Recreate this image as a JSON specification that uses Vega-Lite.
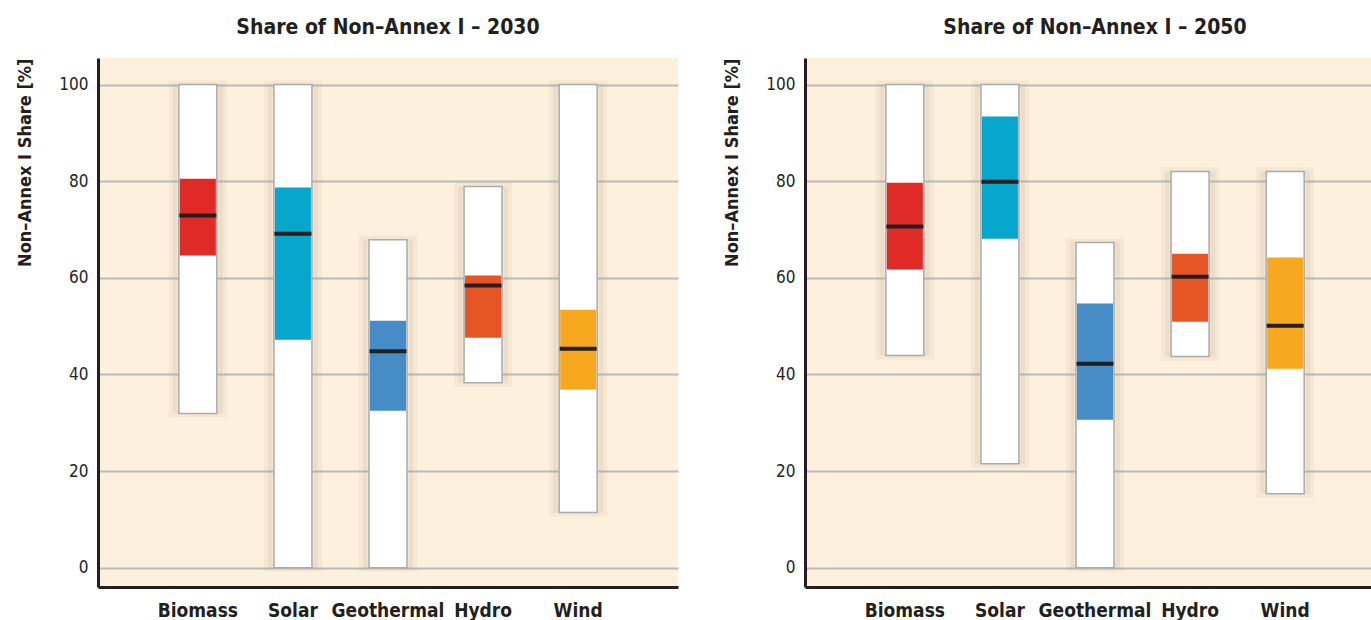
{
  "$schema": "https://vega.github.io/schema/vega-lite/v6.json",
  "background": "white",
  "padding": {"left": 16, "top": 17, "right": 0, "bottom": 0},
  "spacing": 45,
  "datasets": {
    "shares": [
      {"year": "2030", "tech": "Biomass", "min": 31.9, "max": 100, "q1": 64.6, "q3": 80.5, "median": 72.9},
      {"year": "2030", "tech": "Solar", "min": 0, "max": 100, "q1": 47.2, "q3": 78.7, "median": 69.1},
      {"year": "2030", "tech": "Geothermal", "min": 0, "max": 67.9, "q1": 32.5, "q3": 51.1, "median": 44.8},
      {"year": "2030", "tech": "Hydro", "min": 38.3, "max": 78.9, "q1": 47.6, "q3": 60.5, "median": 58.4},
      {"year": "2030", "tech": "Wind", "min": 11.4, "max": 100, "q1": 36.9, "q3": 53.4, "median": 45.3},
      {"year": "2050", "tech": "Biomass", "min": 43.9, "max": 100, "q1": 61.7, "q3": 79.7, "median": 70.6},
      {"year": "2050", "tech": "Solar", "min": 21.5, "max": 100, "q1": 68.1, "q3": 93.4, "median": 79.9},
      {"year": "2050", "tech": "Geothermal", "min": 0, "max": 67.3, "q1": 30.6, "q3": 54.7, "median": 42.2},
      {"year": "2050", "tech": "Hydro", "min": 43.7, "max": 82, "q1": 50.9, "q3": 65, "median": 60.2},
      {"year": "2050", "tech": "Wind", "min": 15.3, "max": 82, "q1": 41.2, "q3": 64.2, "median": 50.1}
    ]
  },
  "hconcat": [
    {
      "title": {"text": "Share of Non–Annex I – 2030"},
      "width": 580,
      "height": 529,
      "data": {"name": "shares"},
      "transform": [{"filter": "datum.year === '2030'"}],
      "encoding": {
        "x": {"field": "tech", "type": "nominal", "sort": ["Biomass", "Solar", "Geothermal", "Hydro", "Wind"], "scale": {"paddingOuter": 0.55, "paddingInner": 0}, "axis": {"title": null}}
      },
      "layer": [
        {"mark": {"type": "bar", "size": 50, "fill": "#b09a80", "fillOpacity": 0.12, "stroke": "#b09a80", "strokeWidth": 8, "strokeOpacity": 0.1},
         "encoding": {"y": {"field": "min", "type": "quantitative", "scale": {"domain": [-4, 105.5], "nice": false, "zero": false}, "axis": {"title": "Non–Annex I Share [%]", "values": [0, 20, 40, 60, 80, 100]}}, "y2": {"field": "max"}}},
        {"mark": {"type": "bar", "size": 38, "fill": "white", "stroke": "#a9abae", "strokeWidth": 1.5},
         "encoding": {"y": {"field": "min", "type": "quantitative"}, "y2": {"field": "max"}}},
        {"mark": {"type": "bar", "size": 36},
         "encoding": {"y": {"field": "q1", "type": "quantitative"}, "y2": {"field": "q3"}, "color": {"field": "tech", "type": "nominal", "scale": {"domain": ["Biomass", "Solar", "Geothermal", "Hydro", "Wind"], "range": ["#e02a26", "#06a6cd", "#468dc8", "#e55525", "#f8a81f"]}, "legend": null}}},
        {"mark": {"type": "tick", "size": 37, "thickness": 4, "color": "#231f20", "opacity": 1},
         "encoding": {"y": {"field": "median", "type": "quantitative"}}}
      ]
    },
    {
      "title": {"text": "Share of Non–Annex I – 2050"},
      "width": 580,
      "height": 529,
      "data": {"name": "shares"},
      "transform": [{"filter": "datum.year === '2050'"}],
      "encoding": {
        "x": {"field": "tech", "type": "nominal", "sort": ["Biomass", "Solar", "Geothermal", "Hydro", "Wind"], "scale": {"paddingOuter": 0.55, "paddingInner": 0}, "axis": {"title": null}}
      },
      "layer": [
        {"mark": {"type": "bar", "size": 50, "fill": "#b09a80", "fillOpacity": 0.12, "stroke": "#b09a80", "strokeWidth": 8, "strokeOpacity": 0.1},
         "encoding": {"y": {"field": "min", "type": "quantitative", "scale": {"domain": [-4, 105.5], "nice": false, "zero": false}, "axis": {"title": "Non–Annex I Share [%]", "values": [0, 20, 40, 60, 80, 100]}}, "y2": {"field": "max"}}},
        {"mark": {"type": "bar", "size": 38, "fill": "white", "stroke": "#a9abae", "strokeWidth": 1.5},
         "encoding": {"y": {"field": "min", "type": "quantitative"}, "y2": {"field": "max"}}},
        {"mark": {"type": "bar", "size": 36},
         "encoding": {"y": {"field": "q1", "type": "quantitative"}, "y2": {"field": "q3"}, "color": {"field": "tech", "type": "nominal", "scale": {"domain": ["Biomass", "Solar", "Geothermal", "Hydro", "Wind"], "range": ["#e02a26", "#06a6cd", "#468dc8", "#e55525", "#f8a81f"]}, "legend": null}}},
        {"mark": {"type": "tick", "size": 37, "thickness": 4, "color": "#231f20", "opacity": 1},
         "encoding": {"y": {"field": "median", "type": "quantitative"}}}
      ]
    }
  ],
  "config": {
    "font": "Liberation Sans Narrow, DejaVu Sans Condensed, Open Sans",
    "view": {"fill": "#fdf0dc", "stroke": null},
    "title": {"fontSize": 21, "fontWeight": "bold", "color": "#231f20", "frame": "group", "anchor": "middle", "offset": 20, "font": "Liberation Sans Narrow, DejaVu Sans Condensed, Open Sans"},
    "axisX": {"labelAngle": 0, "labelFontSize": 19, "labelFontWeight": "bold", "labelColor": "#231f20", "ticks": false, "domainColor": "#231f20", "domainWidth": 3, "labelPadding": 14, "grid": false},
    "axisY": {"labelFontSize": 17, "labelColor": "#231f20", "ticks": false, "domainColor": "#231f20", "domainWidth": 3, "labelPadding": 10, "grid": true, "gridColor": "#b9b9b9", "gridWidth": 2, "titleFontSize": 18, "titleFontWeight": "bold", "titleColor": "#231f20", "titlePadding": 24, "titleAnchor": "end"}
  }
}
